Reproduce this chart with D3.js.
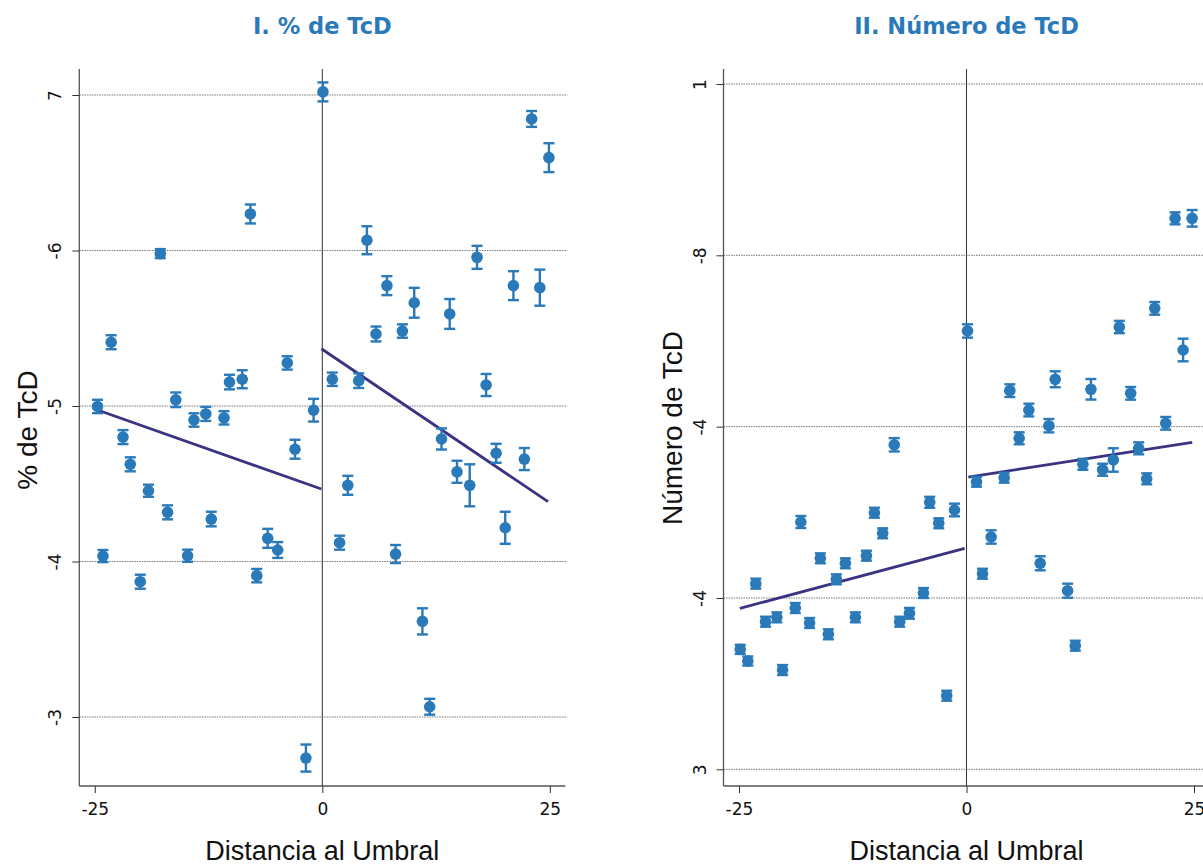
<!DOCTYPE html>
<html>
<head>
<meta charset="utf-8">
<script src="https://cdn.jsdelivr.net/npm/d3@7/dist/d3.min.js"></script>
<style>
  html, body { margin: 0; padding: 0; background: #fff; }
  svg { display: block; }
</style>
</head>
<body>
<svg id="chart" width="1203" height="865"></svg>
<script>
// ---------- Panel I: % de TcD ----------
const pctX = [-24.7,-24.1,-23.2,-21.9,-21.1,-20.0,-19.1,-17.8,-17.0,-16.1,-14.8,-14.1,-12.8,-12.2,-10.8,-10.2,-8.8,-7.9,-7.2,-6.0,-4.9,-3.85,-3.0,-1.8,-0.96,
              0.07,1.1,1.9,2.8,4.0,4.9,5.9,7.1,8.05,8.8,10.1,11.0,11.8,13.1,14.0,14.8,16.2,17.0,18.0,19.1,20.1,21.0,22.2,23.0,23.9,24.9];
const pctY = [0.4997,0.4035,0.541,0.480,0.4625,0.387,0.4455,0.598,0.4316,0.504,0.4037,0.491,0.4949,0.4273,0.4924,0.5154,0.5172,0.6235,0.3909,0.4149,0.4074,0.5277,0.4722,0.2736,0.4973,
              0.702,0.5172,0.4121,0.449,0.5163,0.6066,0.5463,0.5774,0.4048,0.5482,0.5664,0.3615,0.3066,0.4788,0.5592,0.4577,0.449,0.5956,0.5135,0.4696,0.4217,0.5774,0.4659,0.6846,0.5761,0.6597];
const pctErr = [0.0043,0.0039,0.0045,0.0045,0.0045,0.0045,0.0039,0.0029,0.0045,0.0047,0.0039,0.0043,0.0045,0.0047,0.0043,0.0047,0.0058,0.0061,0.0043,0.0061,0.0051,0.0043,0.0061,0.0087,0.0073,
                0.0061,0.0043,0.0045,0.0061,0.0047,0.009,0.0048,0.0061,0.0058,0.0043,0.0096,0.0084,0.0051,0.0068,0.0096,0.0071,0.0135,0.0074,0.0071,0.0061,0.0103,0.0093,0.0071,0.0051,0.0116,0.0093];
const pctFitLeftX = [-24.7, -0.1];
const pctFitLeftY = [0.4974, 0.4466];
const pctFitRightX = [-0.1, 24.8];
const pctFitRightY = [0.5368, 0.4385];
const pctTicks = [0.7, 0.6, 0.5, 0.4, 0.3];
const pctTickLabels = ["7", "-6", "-5", "-4", "-3"];

// ---------- Panel II: Número de TcD ----------
const numX = [-24.86,-24.03,-23.15,-22.08,-20.84,-20.21,-18.81,-18.2,-17.24,-16.06,-15.18,-14.3,-13.31,-12.21,-11.0,-10.12,-9.21,-7.94,-7.34,-6.27,-4.73,-4.04,-3.05,-2.17,-1.32,
              0.11,1.1,1.76,2.71,4.14,4.76,5.79,6.85,8.1,9.05,9.75,11.11,11.95,12.79,13.67,14.96,16.13,16.79,18.04,18.92,19.8,20.68,21.89,22.92,23.8,24.79];
const numY = [0.340,0.3264,0.4167,0.3723,0.3774,0.3159,0.3883,0.4887,0.3708,0.4463,0.3576,0.4218,0.4405,0.3774,0.4494,0.4995,0.4755,0.5788,0.3723,0.3821,0.4058,0.5117,0.4872,0.2859,0.5027,
              0.7117,0.5357,0.4283,0.4712,0.5404,0.642,0.5864,0.6194,0.4405,0.6011,0.6553,0.4085,0.3443,0.556,0.6436,0.5497,0.5611,0.7163,0.6389,0.5747,0.5391,0.7381,0.6039,0.8432,0.6895,0.8432];
const numErr = [0.0053,0.0053,0.0058,0.0058,0.0058,0.0058,0.0058,0.007,0.0058,0.0058,0.0058,0.0058,0.0058,0.0058,0.0058,0.0058,0.0058,0.0078,0.0058,0.0063,0.0058,0.0064,0.0058,0.0058,0.0074,
              0.0078,0.0058,0.0058,0.0078,0.0058,0.0074,0.007,0.0074,0.0082,0.0078,0.0093,0.0082,0.0058,0.0064,0.012,0.007,0.0137,0.0072,0.0074,0.007,0.0064,0.0074,0.0074,0.007,0.0132,0.0097];
const numFitLeftX = [-24.9, -0.2];
const numFitLeftY = [0.3879, 0.458];
const numFitRightX = [0.2, 24.8];
const numFitRightY = [0.5412, 0.5817];
const numTicks = [1.0, 0.8, 0.6, 0.4, 0.2];
const numTickLabels = ["1", "-8", "-4", "-4", "3"];

const xTicks = [-25, 0, 25];
const xTickLabels = ["-25", "0", "25"];

const titles = ["I. % de TcD", "II. Número de TcD"];
const yTitles = ["% de TcD", "Número de TcD"];
const xTitle = "Distancia al Umbral";

const pointColor = "#2a79b8";
const lineColor = "#3a3382";
const titleColor = "#2a7ab9";
const sansA = "'Liberation Sans', Arial, Helvetica, sans-serif";
const sansD = "'DejaVu Sans', sans-serif";

const svg = d3.select("#chart");

function panel(cfg) {
  const g = svg.append("g");
  const x = d3.scaleLinear().domain([-26.7, 26.7]).range([cfg.left, cfg.left + 486]);
  const y = d3.scaleLinear().domain(cfg.yDomain).range([786, 69]);

  // gridlines
  g.selectAll("line.grid").data(cfg.ticks).join("line")
    .attr("class", "grid")
    .attr("x1", cfg.left).attr("x2", cfg.left + 488)
    .attr("y1", d => y(d)).attr("y2", d => y(d))
    .attr("stroke", "#555").attr("stroke-width", 0.8)
    .attr("stroke-dasharray", "1.5,1");

  // zero vertical line
  g.append("line")
    .attr("x1", x(0)).attr("x2", x(0))
    .attr("y1", 69).attr("y2", 786)
    .attr("stroke", "#333").attr("stroke-width", 1);

  // y axis
  const yAxis = d3.axisLeft(y).tickValues(cfg.ticks)
    .tickFormat((d, i) => cfg.tickLabels[i]).tickSize(7).tickPadding(0);
  const ya = g.append("g").attr("transform", `translate(${cfg.left},0)`).call(yAxis);
  ya.select(".domain").attr("stroke", "#555").attr("stroke-width", 1.3).attr("d", `M-0,786V69`);
  ya.selectAll(".tick line").attr("stroke", "#333").attr("stroke-width", 1);
  ya.selectAll(".tick text")
    .style("font-family", sansD).style("font-size", "17px")
    .attr("fill", "#111")
    .attr("text-anchor", "middle")
    .attr("x", 0).attr("dy", 0)
    .attr("transform", "translate(-24,0) rotate(-90)")
    .attr("dominant-baseline", "central");

  // x axis
  const xAxis = d3.axisBottom(x).tickValues(xTicks)
    .tickFormat((d, i) => xTickLabels[i]).tickSize(7).tickPadding(10);
  const xa = g.append("g").attr("transform", "translate(0,786)").call(xAxis);
  xa.select(".domain").attr("stroke", "#555").attr("stroke-width", 1.3).attr("d", `M${cfg.left},0H${cfg.left + 486}`);
  xa.selectAll(".tick line").attr("stroke", "#333").attr("stroke-width", 1);
  xa.selectAll(".tick text").attr("fill", "#111")
    .style("font-family", sansD).style("font-size", "17px");

  // fit lines
  const line = d3.line().x(d => x(d[0])).y(d => y(d[1]));
  [[cfg.fitLX, cfg.fitLY], [cfg.fitRX, cfg.fitRY]].forEach(([xs, ys]) => {
    g.append("path")
      .attr("d", line(xs.map((v, i) => [v, ys[i]])))
      .attr("fill", "none").attr("stroke", lineColor).attr("stroke-width", 2.8);
  });

  // error bars + points
  const data = cfg.xs.map((v, i) => ({ x: v, y: cfg.ys[i], e: cfg.errs[i] }));
  const eb = g.append("g").attr("stroke", pointColor).attr("stroke-width", 2.4);
  eb.selectAll("line.v").data(data).join("line")
    .attr("x1", d => x(d.x)).attr("x2", d => x(d.x))
    .attr("y1", d => y(d.y + d.e)).attr("y2", d => y(d.y - d.e));
  eb.selectAll("line.t").data(data).join("line")
    .attr("x1", d => x(d.x) - 5.5).attr("x2", d => x(d.x) + 5.5)
    .attr("y1", d => y(d.y + d.e)).attr("y2", d => y(d.y + d.e));
  eb.selectAll("line.b").data(data).join("line")
    .attr("x1", d => x(d.x) - 5.5).attr("x2", d => x(d.x) + 5.5)
    .attr("y1", d => y(d.y - d.e)).attr("y2", d => y(d.y - d.e));
  g.append("g").selectAll("circle").data(data).join("circle")
    .attr("cx", d => x(d.x)).attr("cy", d => y(d.y)).attr("r", 5.8)
    .attr("fill", pointColor);

  // titles
  g.append("text").attr("x", x(0)).attr("y", 34)
    .attr("text-anchor", "middle")
    .style("font-family", sansD).style("font-size", "22.5px").style("font-weight", "bold")
    .attr("fill", titleColor).text(cfg.title);
  g.append("text").attr("x", x(0)).attr("y", 860)
    .attr("text-anchor", "middle")
    .style("font-family", sansA).style("font-size", "27px")
    .attr("fill", "#111").text(xTitle);
  g.append("text")
    .attr("transform", `translate(${cfg.left - 42},${cfg.yTitleY}) rotate(-90)`)
    .attr("text-anchor", "middle")
    .style("font-family", sansA).style("font-size", "28px")
    .attr("fill", "#111").text(cfg.yTitle);
}

function domainFrom(p1, v1, p2, v2) {
  const s = (v2 - v1) / (p2 - p1);
  return [v1 + (786 - p1) * s, v1 + (69 - p1) * s];
}

panel({
  left: 79.3, yDomain: domainFrom(95, 0.7, 717, 0.3),
  ticks: pctTicks, tickLabels: pctTickLabels,
  xs: pctX, ys: pctY, errs: pctErr,
  fitLX: pctFitLeftX, fitLY: pctFitLeftY, fitRX: pctFitRightX, fitRY: pctFitRightY,
  title: titles[0], yTitle: yTitles[0], yTitleY: 430
});
panel({
  left: 723.5, yDomain: domainFrom(84, 1.0, 769.3, 0.2),
  ticks: numTicks, tickLabels: numTickLabels,
  xs: numX, ys: numY, errs: numErr,
  fitLX: numFitLeftX, fitLY: numFitLeftY, fitRX: numFitRightX, fitRY: numFitRightY,
  title: titles[1], yTitle: yTitles[1], yTitleY: 428
});
</script>
</body>
</html>
